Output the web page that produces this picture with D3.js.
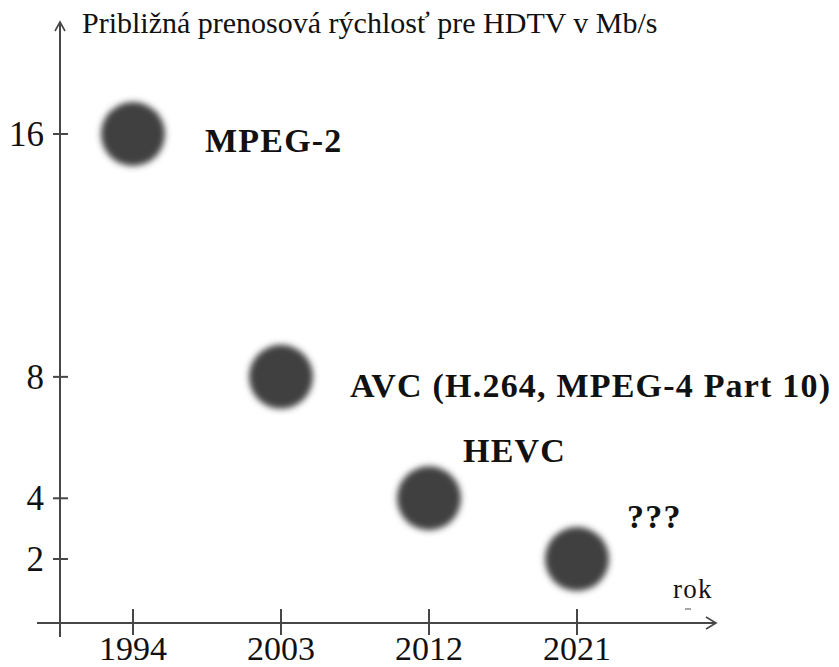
<!DOCTYPE html>
<html>
<head>
<meta charset="utf-8">
<script src="https://cdn.jsdelivr.net/npm/d3@7"></script>
<style>
  html, body { margin: 0; padding: 0; background: #fff; }
  svg { display: block; }
  text { font-family: "Liberation Serif", "Times New Roman", serif; fill: #111; }
</style>
</head>
<body>
<svg id="chart" width="839" height="667"></svg>
<script>
// Codec generations and the approximate HDTV bit rate each one needs
const years = [1994, 2003, 2012, 2021];
const rates = [16, 8, 4, 2];
const codecs = ["MPEG-2", "AVC (H.264, MPEG-4 Part 10)", "HEVC", "???"];
const yTicks = [2, 4, 8, 16];
const xTicks = [1994, 2003, 2012, 2021];
const yTitle = "Približná prenosová rýchlosť pre HDTV v Mb/s";
const xTitle = "rok";

const svg = d3.select("#chart");

const x = d3.scaleLinear().domain([1994, 2021]).range([133, 577]);
const y = d3.scaleLinear().domain([2, 16]).range([559, 134]);

const axisColor = "#474747";
const axisX0 = 60;      // vertical axis position
const axisY0 = 623;     // horizontal axis position

// soft edge for the bubbles
const defs = svg.append("defs");
defs.append("filter").attr("id", "soft")
  .attr("x", "-30%").attr("y", "-30%").attr("width", "160%").attr("height", "160%")
  .append("feGaussianBlur").attr("stdDeviation", 3.2);

// axes
const ax = svg.append("g").attr("stroke", axisColor).attr("fill", "none")
  .attr("stroke-width", 2);
ax.append("line").attr("x1", axisX0).attr("x2", axisX0).attr("y1", 23).attr("y2", 637);
ax.append("line").attr("x1", 37).attr("x2", 715).attr("y1", axisY0).attr("y2", axisY0);
// arrow heads
ax.append("path").attr("stroke-width", 1.6)
  .attr("d", `M${axisX0 - 5},31 L${axisX0},22 L${axisX0 + 5},31`);
ax.append("path").attr("stroke-width", 1.6)
  .attr("d", `M706,${axisY0 - 6} L716,${axisY0} L706,${axisY0 + 6}`);

// y ticks
ax.selectAll(".yt").data(yTicks).join("line")
  .attr("x1", axisX0 - 7).attr("x2", axisX0 + 8)
  .attr("y1", d => y(d)).attr("y2", d => y(d));
svg.selectAll(".ytl").data(yTicks).join("text")
  .attr("x", 44).attr("y", d => y(d)).attr("dy", "0.34em")
  .attr("text-anchor", "end").attr("font-size", 35)
  .text(d => d);

// x ticks
ax.selectAll(".xt").data(xTicks).join("line")
  .attr("x1", d => x(d)).attr("x2", d => x(d))
  .attr("y1", axisY0 - 14).attr("y2", axisY0 + 12);
svg.selectAll(".xtl").data(xTicks).join("text")
  .attr("x", d => x(d)).attr("y", 660)
  .attr("text-anchor", "middle").attr("font-size", 34)
  .text(d => d);

// axis titles
svg.append("text").attr("x", 82).attr("y", 33).attr("font-size", 30).text(yTitle);
svg.append("text").attr("x", 673).attr("y", 598).attr("font-size", 27)
  .attr("letter-spacing", 1.2).text(xTitle);
svg.append("line").attr("x1", 685).attr("x2", 691).attr("y1", 609).attr("y2", 609)
  .attr("stroke", "#8a8a8a").attr("stroke-width", 1.5);

// bubbles
const pts = years.map((yr, i) => ({ year: yr, rate: rates[i], name: codecs[i] }));
svg.append("g").selectAll("circle").data(pts).join("circle")
  .attr("cx", d => x(d.year)).attr("cy", d => y(d.rate))
  .attr("r", 32).attr("fill", "#404040").attr("filter", "url(#soft)");

// codec labels
const labelOffset = [[72, 18], [69, 20], [34, -36], [50, -31]];
svg.append("g").selectAll("text").data(pts).join("text")
  .attr("x", (d, i) => x(d.year) + labelOffset[i][0])
  .attr("y", (d, i) => y(d.rate) + labelOffset[i][1])
  .attr("font-size", 34).attr("font-weight", "bold").attr("letter-spacing", 1.2)
  .text(d => d.name);
</script>
</body>
</html>
